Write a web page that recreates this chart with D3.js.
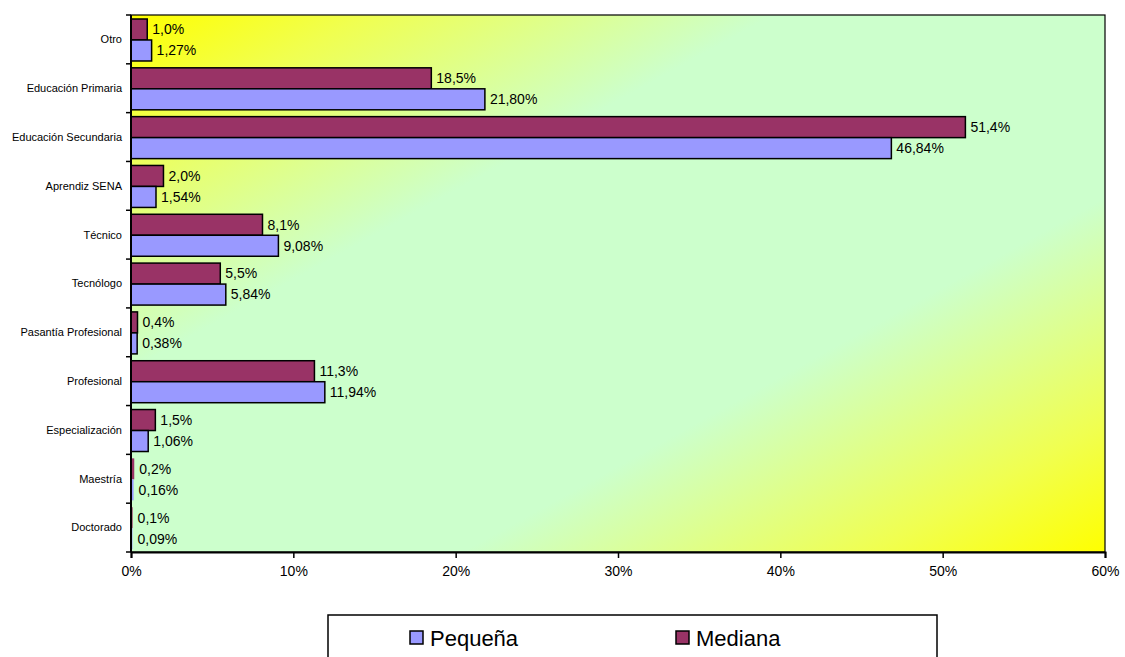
<!DOCTYPE html>
<html>
<head>
<meta charset="utf-8">
<script src="https://cdn.jsdelivr.net/npm/d3@7"></script>
<style>
  body { margin: 0; background: #fff; }
  text { font-family: "Liberation Sans", Arial, sans-serif; }
</style>
</head>
<body>
<div id="chart"></div>
<script>
// Chart data
const categories = ["Otro", "Educación Primaria", "Educación Secundaria", "Aprendiz SENA", "Técnico",
  "Tecnólogo", "Pasantía Profesional", "Profesional", "Especialización", "Maestría", "Doctorado"];
const mediana = [1.0, 18.5, 51.4, 2.0, 8.1, 5.5, 0.4, 11.3, 1.5, 0.2, 0.1];
const pequena = [1.27, 21.80, 46.84, 1.54, 9.08, 5.84, 0.38, 11.94, 1.06, 0.16, 0.09];
const xTicks = [0, 10, 20, 30, 40, 50, 60];

const width = 1125, height = 657;
const plot = { left: 131, top: 15, right: 1105, bottom: 552 };

const svg = d3.select("#chart").append("svg")
  .attr("width", width)
  .attr("height", height);

// background gradient of the plot area (yellow corners, pale green diagonal)
const grad = svg.append("defs").append("linearGradient")
  .attr("id", "bg")
  .attr("x1", 0).attr("y1", 0).attr("x2", 1).attr("y2", 1);
[["0%", "#ffff00"], ["12%", "#f0ff50"], ["33%", "#ccffcc"], ["67%", "#ccffcc"], ["88%", "#f0ff50"], ["100%", "#ffff00"]]
  .forEach(s => grad.append("stop").attr("offset", s[0]).attr("stop-color", s[1]));

const x = d3.scaleLinear().domain([0, 60]).range([plot.left, plot.right]);
const y = d3.scaleBand().domain(categories).range([plot.top, plot.bottom]).paddingInner(0).paddingOuter(0);

svg.append("rect")
  .attr("x", plot.left).attr("y", plot.top)
  .attr("width", plot.right - plot.left).attr("height", plot.bottom - plot.top)
  .attr("fill", "url(#bg)")
  .attr("stroke", "#000").attr("stroke-width", 1.2);

const rows = categories.map((c, i) => ({ cat: c, med: mediana[i], peq: pequena[i] }));
const barH = y.bandwidth() * 0.43;
const topPad = 4;

const fmt = (v, d) => v.toFixed(d).replace(".", ",") + "%";

const g = svg.selectAll(".row").data(rows).enter().append("g")
  .attr("transform", d => `translate(0,${y(d.cat)})`);

g.append("rect")
  .attr("x", plot.left)
  .attr("y", topPad)
  .attr("width", d => x(d.med) - plot.left)
  .attr("height", barH)
  .attr("fill", "#993366")
  .attr("stroke", "#000").attr("stroke-width", d => d.med < 0.3 ? 0 : 1.5);

g.append("rect")
  .attr("x", plot.left)
  .attr("y", topPad + barH)
  .attr("width", d => x(d.peq) - plot.left)
  .attr("height", barH)
  .attr("fill", "#9999ff")
  .attr("stroke", "#000").attr("stroke-width", d => d.peq < 0.3 ? 0 : 1.5);

g.append("text")
  .attr("x", d => x(d.med) + 5)
  .attr("y", topPad + barH / 2)
  .attr("dy", "0.35em")
  .attr("font-size", 14)
  .text(d => fmt(d.med, 1));

g.append("text")
  .attr("x", d => x(d.peq) + 5)
  .attr("y", topPad + barH * 1.5)
  .attr("dy", "0.35em")
  .attr("font-size", 14)
  .text(d => fmt(d.peq, 2));

// y axis
const yAxis = svg.append("g").attr("transform", `translate(${plot.left},0)`);
yAxis.append("line")
  .attr("x1", 0).attr("x2", 0).attr("y1", plot.top).attr("y2", plot.bottom)
  .attr("stroke", "#000").attr("stroke-width", 2);
yAxis.selectAll(".tk").data(d3.range(categories.length + 1)).enter().append("line")
  .attr("x1", -5).attr("x2", 0)
  .attr("y1", i => plot.top + i * y.step())
  .attr("y2", i => plot.top + i * y.step())
  .attr("stroke", "#000").attr("stroke-width", 1.5);
yAxis.selectAll(".lbl").data(categories).enter().append("text")
  .attr("x", -9)
  .attr("y", d => y(d) + y.bandwidth() / 2)
  .attr("dy", "0.35em")
  .attr("text-anchor", "end")
  .attr("font-size", 11)
  .text(d => d);

// x axis
const xAxis = svg.append("g").attr("transform", `translate(0,${plot.bottom})`)
  .call(d3.axisBottom(x).tickValues(xTicks).tickSize(6).tickFormat(d => d + "%"));
xAxis.select(".domain").attr("stroke", "#000").attr("stroke-width", 2);
xAxis.selectAll(".tick line").attr("stroke", "#000").attr("stroke-width", 1.5);
xAxis.selectAll(".tick text")
  .attr("font-family", "Liberation Sans, Arial, sans-serif")
  .attr("font-size", 14).attr("fill", "#000").attr("dy", "1.1em");

// legend
const legend = svg.append("g");
legend.append("rect")
  .attr("x", 328).attr("y", 615).attr("width", 609).attr("height", 60)
  .attr("fill", "#fff").attr("stroke", "#000").attr("stroke-width", 1.5);
const legendItems = [
  { label: "Pequeña", color: "#9999ff", x: 410 },
  { label: "Mediana", color: "#993366", x: 676 }
];
legendItems.forEach(d => {
  legend.append("rect")
    .attr("x", d.x).attr("y", 631).attr("width", 13).attr("height", 13)
    .attr("fill", d.color).attr("stroke", "#000").attr("stroke-width", 1.5);
  legend.append("text")
    .attr("x", d.x + 20).attr("y", 646)
    .attr("font-size", 22)
    .text(d.label);
});
</script>
</body>
</html>
